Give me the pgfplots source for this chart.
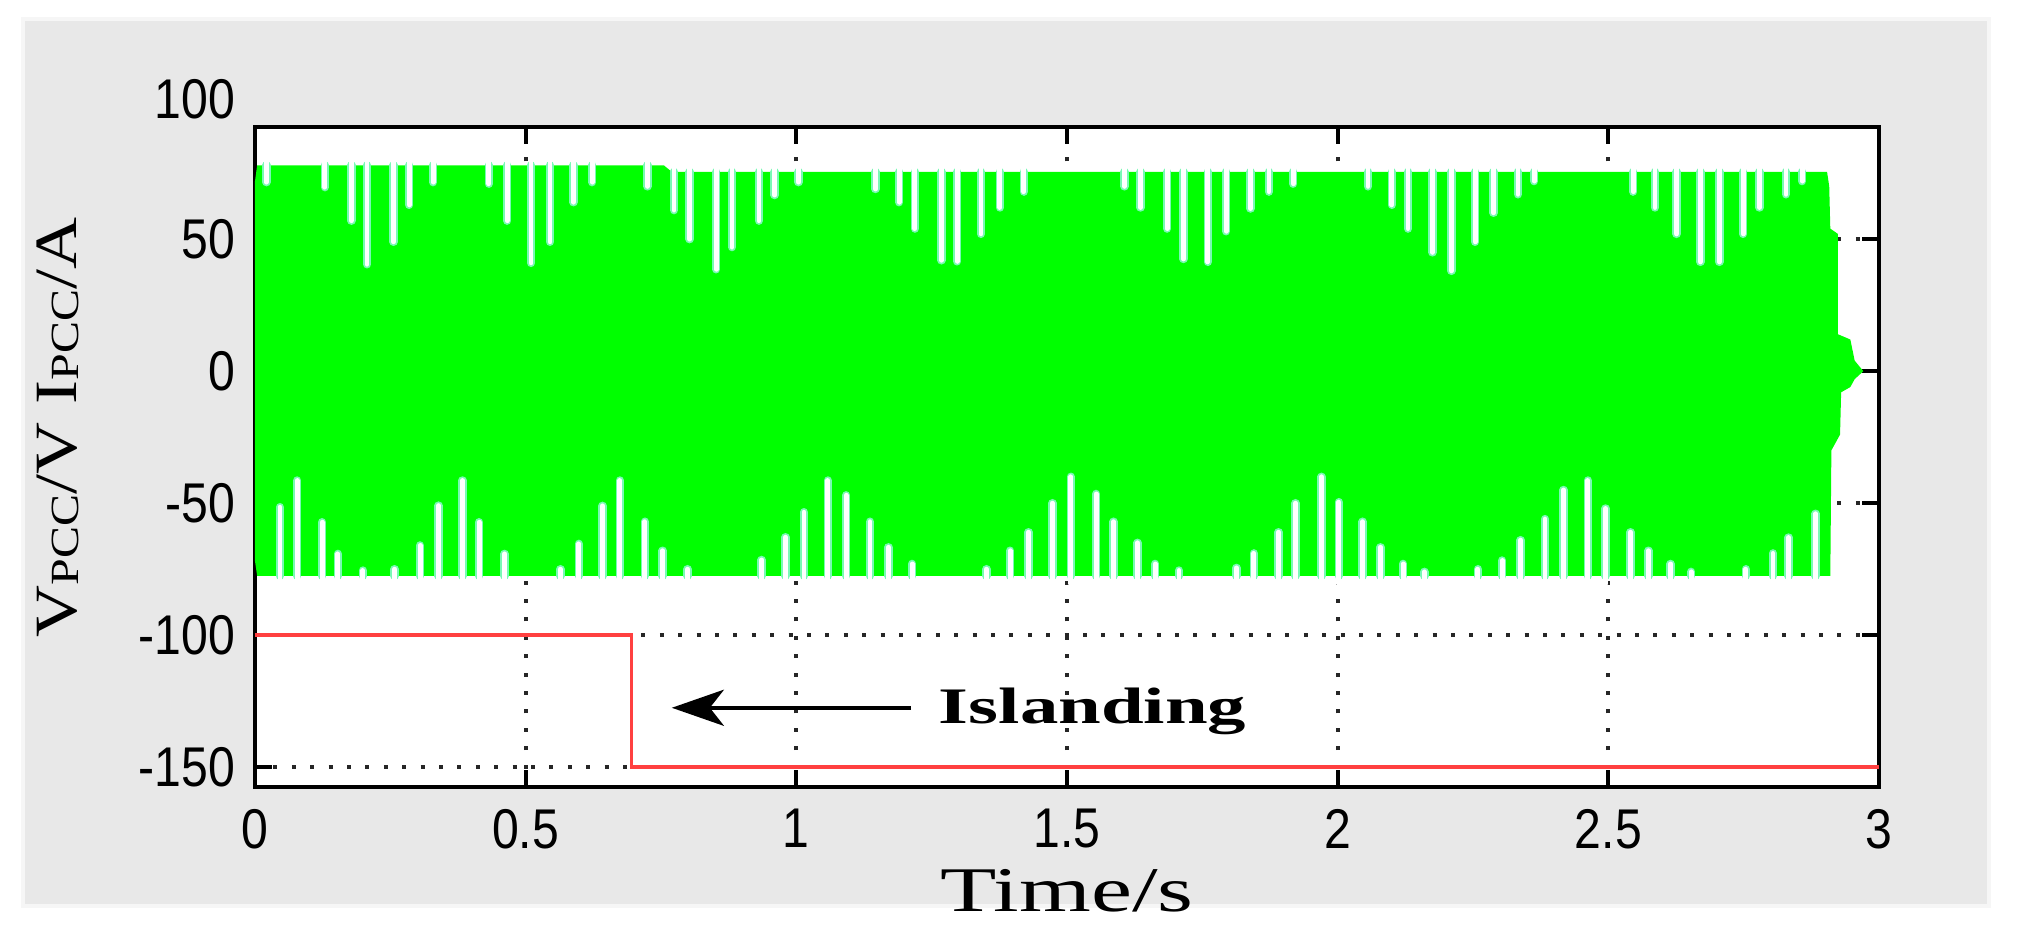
\documentclass[border=0pt]{standalone}
\usepackage{fontspec}
\setmainfont{Liberation Sans}
\newfontfamily\tickfam{Liberation Sans}[FakeStretch=0.86]
\newfontfamily\tnrx{Liberation Serif}[FakeStretch=1.45]
\newfontfamily\tnri{Liberation Serif}[FakeStretch=1.5]
\newfontfamily\tnry{Liberation Serif}[FakeStretch=1.2]
\usepackage{pgfplots}
\pgfplotsset{compat=1.18}
\usepackage{pgfplotstable}
\usetikzlibrary{arrows.meta}
\definecolor{panel}{RGB}{232,232,232}
\definecolor{panelEdge}{RGB}{246,246,246}
\definecolor{sig}{RGB}{0,255,0}
\definecolor{sigEdge}{RGB}{120,250,180}
\definecolor{islred}{RGB}{255,64,64}
\newcommand\tickfont{\tickfam\fontsize{14}{14}\selectfont}

% envelope of the green signal band
\pgfplotstableread[row sep=\\]{
x y\\
0 -72\\ 0 72\\ 0.004 78\\ 0.755 78\\ 0.770 75.5\\ 2.904 75.5\\ 2.908 70\\ 2.910 54\\
2.924 52\\ 2.924 14\\ 2.947 12\\ 2.955 4\\ 2.971 0\\ 2.955 -3\\ 2.947 -6\\ 2.930 -8\\
2.928 -24\\ 2.912 -30\\ 2.910 -77.5\\ 0.004 -77.5\\ 0 -72\\
}\envelope

% gaps in the band (x, edge-line y, core-line y)
\pgfplotstableread[row sep=\\]{
x yc yw\\
0.021 78 81\\ 0.021 71.6 71.6\\ 0.021 nan nan\\
0.129 78 81\\ 0.129 69.7 69.7\\ 0.129 nan nan\\
0.178 78 81\\ 0.178 57 57\\ 0.178 nan nan\\
0.207 78 81\\ 0.207 40.5 40.5\\ 0.207 nan nan\\
0.256 78 81\\ 0.256 49 49\\ 0.256 nan nan\\
0.285 78 81\\ 0.285 63 63\\ 0.285 nan nan\\
0.329 78 81\\ 0.329 71.6 71.6\\ 0.329 nan nan\\
0.432 78 81\\ 0.432 71 71\\ 0.432 nan nan\\
0.466 78 81\\ 0.466 57 57\\ 0.466 nan nan\\
0.510 78 81\\ 0.510 41 41\\ 0.510 nan nan\\
0.545 78 81\\ 0.545 49 49\\ 0.545 nan nan\\
0.588 78 81\\ 0.588 64 64\\ 0.588 nan nan\\
0.623 78 81\\ 0.623 71.6 71.6\\ 0.623 nan nan\\
0.725 78 81\\ 0.725 70 70\\ 0.725 nan nan\\
0.774 75.5 78.5\\ 0.774 61 61\\ 0.774 nan nan\\
0.803 75.5 78.5\\ 0.803 50 50\\ 0.803 nan nan\\
0.852 75.5 78.5\\ 0.852 38.6 38.6\\ 0.852 nan nan\\
0.881 75.5 78.5\\ 0.881 47 47\\ 0.881 nan nan\\
0.931 75.5 78.5\\ 0.931 57 57\\ 0.931 nan nan\\
0.960 75.5 78.5\\ 0.960 66.7 66.7\\ 0.960 nan nan\\
1.004 75.5 78.5\\ 1.004 71.6 71.6\\ 1.004 nan nan\\
1.146 75.5 78.5\\ 1.146 69 69\\ 1.146 nan nan\\
1.190 75.5 78.5\\ 1.190 64 64\\ 1.190 nan nan\\
1.219 75.5 78.5\\ 1.219 54 54\\ 1.219 nan nan\\
1.268 75.5 78.5\\ 1.268 42 42\\ 1.268 nan nan\\
1.297 75.5 78.5\\ 1.297 41.6 41.6\\ 1.297 nan nan\\
1.341 75.5 78.5\\ 1.341 52 52\\ 1.341 nan nan\\
1.376 75.5 78.5\\ 1.376 62 62\\ 1.376 nan nan\\
1.420 75.5 78.5\\ 1.420 68 68\\ 1.420 nan nan\\
1.606 75.5 78.5\\ 1.606 70 70\\ 1.606 nan nan\\
1.636 75.5 78.5\\ 1.636 62 62\\ 1.636 nan nan\\
1.685 75.5 78.5\\ 1.685 54 54\\ 1.685 nan nan\\
1.715 75.5 78.5\\ 1.715 42.5 42.5\\ 1.715 nan nan\\
1.760 75.5 78.5\\ 1.760 41.4 41.4\\ 1.760 nan nan\\
1.794 75.5 78.5\\ 1.794 53 53\\ 1.794 nan nan\\
1.839 75.5 78.5\\ 1.839 61.6 61.6\\ 1.839 nan nan\\
1.873 75.5 78.5\\ 1.873 68 68\\ 1.873 nan nan\\
1.918 75.5 78.5\\ 1.918 71 71\\ 1.918 nan nan\\
2.056 75.5 78.5\\ 2.056 70 70\\ 2.056 nan nan\\
2.100 75.5 78.5\\ 2.100 63 63\\ 2.100 nan nan\\
2.130 75.5 78.5\\ 2.130 54 54\\ 2.130 nan nan\\
2.175 75.5 78.5\\ 2.175 45 45\\ 2.175 nan nan\\
2.210 75.5 78.5\\ 2.210 38 38\\ 2.210 nan nan\\
2.254 75.5 78.5\\ 2.254 49 49\\ 2.254 nan nan\\
2.288 75.5 78.5\\ 2.288 60 60\\ 2.288 nan nan\\
2.333 75.5 78.5\\ 2.333 67 67\\ 2.333 nan nan\\
2.363 75.5 78.5\\ 2.363 72 72\\ 2.363 nan nan\\
2.546 75.5 78.5\\ 2.546 68 68\\ 2.546 nan nan\\
2.586 75.5 78.5\\ 2.586 62 62\\ 2.586 nan nan\\
2.626 75.5 78.5\\ 2.626 52 52\\ 2.626 nan nan\\
2.670 75.5 78.5\\ 2.670 41.4 41.4\\ 2.670 nan nan\\
2.705 75.5 78.5\\ 2.705 41.4 41.4\\ 2.705 nan nan\\
2.749 75.5 78.5\\ 2.749 52 52\\ 2.749 nan nan\\
2.779 75.5 78.5\\ 2.779 62 62\\ 2.779 nan nan\\
2.828 75.5 78.5\\ 2.828 67 67\\ 2.828 nan nan\\
2.858 75.5 78.5\\ 2.858 72 72\\ 2.858 nan nan\\
0.046 -77.5 -80.5\\ 0.046 -51.5 -51.5\\ 0.046 nan nan\\
0.078 -77.5 -80.5\\ 0.078 -41.4 -41.4\\ 0.078 nan nan\\
0.124 -77.5 -80.5\\ 0.124 -57.2 -57.2\\ 0.124 nan nan\\
0.153 -77.5 -80.5\\ 0.153 -69.2 -69.2\\ 0.153 nan nan\\
0.199 -77.5 -80.5\\ 0.199 -75.5 -75.5\\ 0.199 nan nan\\
0.258 -77.5 -80.5\\ 0.258 -75 -75\\ 0.258 nan nan\\
0.305 -77.5 -80.5\\ 0.305 -66 -66\\ 0.305 nan nan\\
0.339 -77.5 -80.5\\ 0.339 -50.9 -50.9\\ 0.339 nan nan\\
0.383 -77.5 -80.5\\ 0.383 -41.4 -41.4\\ 0.383 nan nan\\
0.414 -77.5 -80.5\\ 0.414 -57.2 -57.2\\ 0.414 nan nan\\
0.461 -77.5 -80.5\\ 0.461 -69.2 -69.2\\ 0.461 nan nan\\
0.564 -77.5 -80.5\\ 0.564 -75 -75\\ 0.564 nan nan\\
0.598 -77.5 -80.5\\ 0.598 -65.4 -65.4\\ 0.598 nan nan\\
0.642 -77.5 -80.5\\ 0.642 -51 -51\\ 0.642 nan nan\\
0.674 -77.5 -80.5\\ 0.674 -41.4 -41.4\\ 0.674 nan nan\\
0.720 -77.5 -80.5\\ 0.720 -57 -57\\ 0.720 nan nan\\
0.753 -77.5 -80.5\\ 0.753 -68 -68\\ 0.753 nan nan\\
0.799 -77.5 -80.5\\ 0.799 -75 -75\\ 0.799 nan nan\\
0.936 -77.5 -80.5\\ 0.936 -71.5 -71.5\\ 0.936 nan nan\\
0.980 -77.5 -80.5\\ 0.980 -62.9 -62.9\\ 0.980 nan nan\\
1.014 -77.5 -80.5\\ 1.014 -53.4 -53.4\\ 1.014 nan nan\\
1.058 -77.5 -80.5\\ 1.058 -41.4 -41.4\\ 1.058 nan nan\\
1.092 -77.5 -80.5\\ 1.092 -47 -47\\ 1.092 nan nan\\
1.136 -77.5 -80.5\\ 1.136 -57 -57\\ 1.136 nan nan\\
1.170 -77.5 -80.5\\ 1.170 -66.7 -66.7\\ 1.170 nan nan\\
1.214 -77.5 -80.5\\ 1.214 -73 -73\\ 1.214 nan nan\\
1.351 -77.5 -80.5\\ 1.351 -75 -75\\ 1.351 nan nan\\
1.395 -77.5 -80.5\\ 1.395 -68 -68\\ 1.395 nan nan\\
1.429 -77.5 -80.5\\ 1.429 -61 -61\\ 1.429 nan nan\\
1.473 -77.5 -80.5\\ 1.473 -50 -50\\ 1.473 nan nan\\
1.507 -77.5 -80.5\\ 1.507 -40 -40\\ 1.507 nan nan\\
1.554 -77.5 -80.5\\ 1.554 -46.5 -46.5\\ 1.554 nan nan\\
1.586 -77.5 -80.5\\ 1.586 -57 -57\\ 1.586 nan nan\\
1.630 -77.5 -80.5\\ 1.630 -65 -65\\ 1.630 nan nan\\
1.663 -77.5 -80.5\\ 1.663 -73 -73\\ 1.663 nan nan\\
1.707 -77.5 -80.5\\ 1.707 -75.5 -75.5\\ 1.707 nan nan\\
1.813 -77.5 -80.5\\ 1.813 -74.5 -74.5\\ 1.813 nan nan\\
1.845 -77.5 -80.5\\ 1.845 -69 -69\\ 1.845 nan nan\\
1.891 -77.5 -80.5\\ 1.891 -61 -61\\ 1.891 nan nan\\
1.922 -77.5 -80.5\\ 1.922 -50 -50\\ 1.922 nan nan\\
1.970 -77.5 -80.5\\ 1.970 -40 -40\\ 1.970 nan nan\\
2.002 -77.5 -80.5\\ 2.002 -49.6 -49.6\\ 2.002 nan nan\\
2.046 -77.5 -80.5\\ 2.046 -57 -57\\ 2.046 nan nan\\
2.079 -77.5 -80.5\\ 2.079 -66.7 -66.7\\ 2.079 nan nan\\
2.121 -77.5 -80.5\\ 2.121 -73 -73\\ 2.121 nan nan\\
2.160 -77.5 -80.5\\ 2.160 -76 -76\\ 2.160 nan nan\\
2.259 -77.5 -80.5\\ 2.259 -75 -75\\ 2.259 nan nan\\
2.304 -77.5 -80.5\\ 2.304 -71.7 -71.7\\ 2.304 nan nan\\
2.338 -77.5 -80.5\\ 2.338 -64 -64\\ 2.338 nan nan\\
2.383 -77.5 -80.5\\ 2.383 -56 -56\\ 2.383 nan nan\\
2.417 -77.5 -80.5\\ 2.417 -45 -45\\ 2.417 nan nan\\
2.462 -77.5 -80.5\\ 2.462 -41.4 -41.4\\ 2.462 nan nan\\
2.495 -77.5 -80.5\\ 2.495 -52 -52\\ 2.495 nan nan\\
2.541 -77.5 -80.5\\ 2.541 -61 -61\\ 2.541 nan nan\\
2.574 -77.5 -80.5\\ 2.574 -68 -68\\ 2.574 nan nan\\
2.615 -77.5 -80.5\\ 2.615 -73 -73\\ 2.615 nan nan\\
2.653 -77.5 -80.5\\ 2.653 -76 -76\\ 2.653 nan nan\\
2.754 -77.5 -80.5\\ 2.754 -75 -75\\ 2.754 nan nan\\
2.804 -77.5 -80.5\\ 2.804 -69 -69\\ 2.804 nan nan\\
2.833 -77.5 -80.5\\ 2.833 -63 -63\\ 2.833 nan nan\\
2.883 -77.5 -80.5\\ 2.883 -54 -54\\ 2.883 nan nan\\
}\spikes

\begin{document}
\begin{tikzpicture}
\fill[white] (-63.75pt,-37.5pt) rectangle (443.5pt,196.75pt);
\path[use as bounding box] (-63.75pt,-37.5pt) rectangle (443.5pt,196.75pt);
\fill[panel] (-58pt,-29.75pt) rectangle (433.5pt,192pt);
\draw[panelEdge, line width=0.8pt] (-58pt,-29.75pt) rectangle (433.5pt,192pt);
\begin{axis}[
  at={(0,0)}, anchor=south west,
  width=406pt, height=165pt, scale only axis,
  xmin=0, xmax=3, ymin=-157.5, ymax=92.5,
  xtick={0,0.5,1,1.5,2,2.5,3},
  xticklabels={0,0.5,1,1.5,2,2.5,3},
  ytick={-150,-100,-50,0,50},
  yticklabels={-150,-100,-50,0,50},
  grid=major,
  major grid style={black!85, line width=1pt, dash pattern=on 1pt off 3.6pt},
  axis line style={black, line width=1pt},
  tick style={black, line width=1pt},
  major tick length=4.2pt,
  tick align=inside,
  axis background/.style={fill=white},
  clip=false,
  unbounded coords=jump,
  ticklabel style={font=\tickfont},
  xticklabel style={yshift=-2pt},
  yticklabel style={xshift=-1.5pt},
  /pgf/number format/assume math mode=true,
]
\addplot[fill=sig, draw=none] table[x=x, y=y] \envelope \closedcycle;
\addplot[sigEdge, line width=2.1pt, line cap=round] table[x=x, y=yc] \spikes;
\addplot[white, line width=1.2pt, line cap=round] table[x=x, y=yw] \spikes;
\addplot[islred, line width=0.85pt] coordinates {(0,-100) (0.695,-100) (0.695,-150) (3,-150)};

\node[anchor=east, inner sep=0.3333em, xshift=-1.5pt, font=\tickfont] at (axis cs:0,103) {100};
\draw[line width=1.1pt, -{Stealth[length=13pt, width=9pt, inset=3.5pt]}] (axis cs:1.212,-127.5) -- (axis cs:0.77,-127.5);
\node[anchor=base west, inner sep=0pt, font=\tnri\bfseries\fontsize{12.8}{14}\selectfont] at (axis cs:1.262,-133.5) {Islanding};
\node[anchor=base, inner sep=0pt, font=\tnrx\fontsize{15.9}{18}\selectfont] at (axis description cs:0.5,-0.189) {Time/s};
\node[rotate=90, inner sep=0pt, font=\tnry\fontsize{15}{17}\selectfont] at (axis description cs:-0.1213,0.545)
  {V\raisebox{-0.4pt}{\fontsize{10}{11}\selectfont PCC}/V I\raisebox{-0.4pt}{\fontsize{10}{11}\selectfont PCC}/A};
\end{axis}
\end{tikzpicture}
\end{document}
